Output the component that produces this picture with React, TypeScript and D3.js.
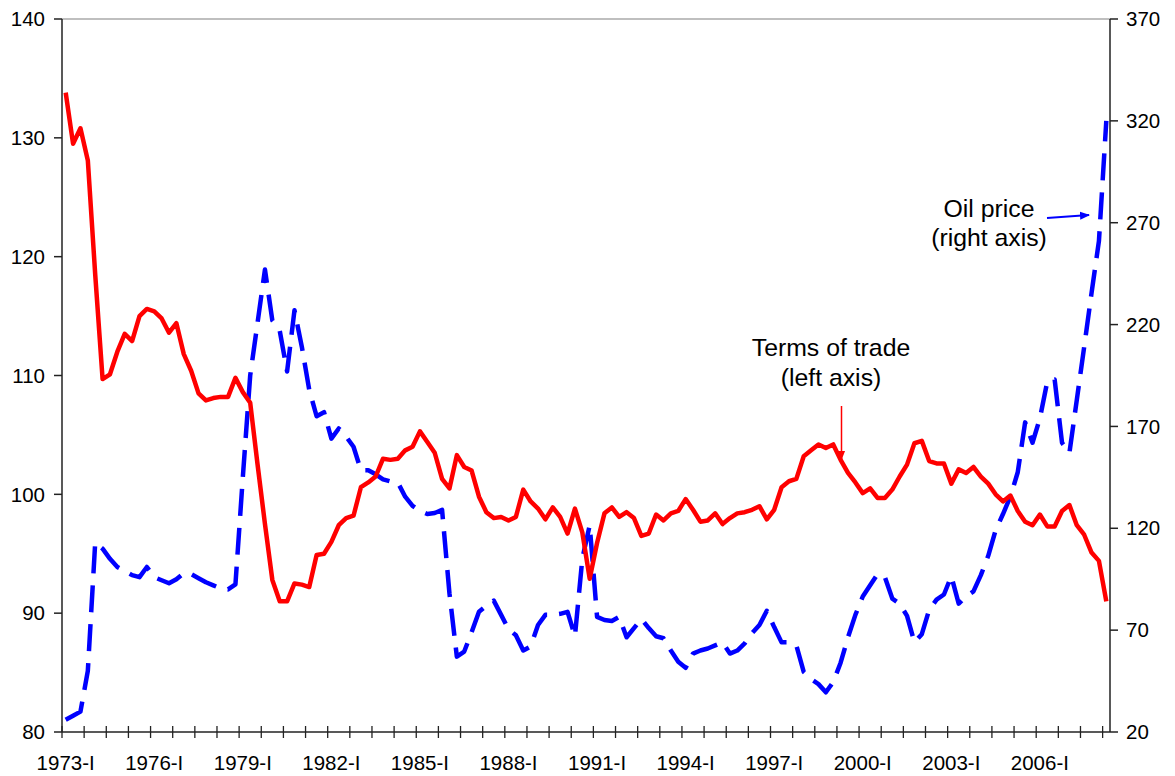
import React from 'react';
import * as d3 from 'd3';

// quarterly, 1973-I .. 2008-II
const startYear = 1973;
const romans = ['I', 'II', 'III', 'IV'];

const termsOfTrade = [
  133.8, 129.5, 130.8, 128.1, 118.5, 109.7, 110.1, 112.0, 113.5, 112.9,
  115.0, 115.6, 115.4, 114.8, 113.6, 114.4, 111.8, 110.4, 108.5, 107.9,
  108.1, 108.2, 108.2, 109.8, 108.6, 107.7, 102.5, 97.5, 92.8, 91.0,
  91.0, 92.5, 92.4, 92.2, 94.9, 95.0, 96.0, 97.4, 98.0, 98.2,
  100.6, 101.0, 101.5, 103.0, 102.9, 103.0, 103.7, 104.0, 105.3, 104.4,
  103.5, 101.3, 100.5, 103.3, 102.3, 102.0, 99.8, 98.5, 98.0, 98.1,
  97.8, 98.1, 100.4, 99.4, 98.8, 97.9, 98.9, 98.1, 96.7, 98.8,
  96.8, 92.9, 95.9, 98.4, 98.9, 98.1, 98.5, 98.0, 96.5, 96.7,
  98.3, 97.8, 98.4, 98.6, 99.6, 98.7, 97.7, 97.8, 98.4, 97.5,
  98.0, 98.4, 98.5, 98.7, 99.0, 97.9, 98.7, 100.6, 101.1, 101.3,
  103.2, 103.7, 104.2, 103.9, 104.2, 102.9, 101.8, 101.0, 100.1, 100.5,
  99.7, 99.7, 100.4, 101.5, 102.5, 104.3, 104.5, 102.8, 102.6, 102.6,
  100.9, 102.1, 101.8, 102.3, 101.5, 100.9, 100.0, 99.4, 99.9, 98.6,
  97.7, 97.4, 98.3, 97.3, 97.3, 98.6, 99.1, 97.4, 96.6, 95.1,
  94.4, 91.0,
];

const oilPrice = [
  26, 28, 30, 50, 113, 110, 105, 101, 99, 97,
  96, 101, 96, 94.5, 93, 95, 98, 97.5, 95.5, 93.5,
  92, 90.5, 90, 92.5, 145, 195, 221, 247, 222, 217,
  197, 227, 209, 188, 175, 177, 164, 169, 165, 160,
  148.5, 148.5, 146.5, 144, 143, 142.5, 135.5, 131, 128.5, 127,
  127.5, 129, 88, 57, 59.5, 69, 79, 82, 84.5, 77.5,
  70.5, 67.5, 60, 62, 72.5, 77.5, 77.5, 78, 79, 67,
  105, 121.5, 76.5, 75, 74.5, 76.5, 66.5, 71, 75.5, 71,
  67, 66, 60, 54.5, 51.5, 58.5, 60, 61, 62.5, 64,
  58.5, 60, 63.5, 68.5, 72.5, 79.5, 71.5, 64, 64, 62.5,
  49.5, 46, 43.5, 39.5, 44.5, 54, 66.5, 77.5, 86.5, 92,
  97.5, 96, 85.5, 83, 77, 64, 68, 80, 85, 87.5,
  96.5, 83, 86.5, 89, 97, 106.5, 119, 127, 135.5, 147.5,
  172, 162, 174, 192, 193, 162, 157, 183, 209, 235.5,
  261, 320,
];

const quarters = termsOfTrade.map(
  (_, i) => `${startYear + Math.floor(i / 4)}-${romans[i % 4]}`
);
const leftTicks = [80, 90, 100, 110, 120, 130, 140];
const rightTicks = [20, 70, 120, 170, 220, 270, 320, 370];

const W = 1175;
const H = 776;
const plot = { left: 62, right: 1110, top: 19, bottom: 732 };
const font = '"Liberation Sans", Arial, Helvetica, sans-serif';

export default function App() {
  const n = quarters.length;
  const x = d3.scaleLinear().domain([0, n]).range([plot.left, plot.right]);
  const yL = d3.scaleLinear().domain([80, 140]).range([plot.bottom, plot.top]);
  const yR = d3.scaleLinear().domain([20, 370]).range([plot.bottom, plot.top]);

  const totLine = d3.line<number>()
    .x((_, i) => x(i + 0.5))
    .y(d => yL(d));
  const oilLine = d3.line<number>()
    .x((_, i) => x(i + 0.5))
    .y(d => yR(d));

  // tick marks every 3 quarters, labels every 12
  const xTicks = d3.range(0, n, 3);
  const xLabels = d3.range(0, n, 12);

  return (
    <svg
      width={W}
      height={H}
      style={{ position: 'absolute', left: 0, top: 0, background: '#fff' }}
      fontFamily={font}
    >
      <defs>
        <marker id="arrRed" viewBox="0 0 10 10" refX="9" refY="5"
          markerWidth="9" markerHeight="9" orient="auto" markerUnits="userSpaceOnUse">
          <path d="M0,1 L10,5 L0,9 z" fill="#ff0000" />
        </marker>
        <marker id="arrBlue" viewBox="0 0 10 10" refX="9" refY="5"
          markerWidth="10" markerHeight="10" orient="auto" markerUnits="userSpaceOnUse">
          <path d="M0,1 L10,5 L0,9 z" fill="#0000ff" />
        </marker>
      </defs>

      {/* plot frame */}
      <line x1={plot.left} x2={plot.right} y1={plot.top} y2={plot.top} stroke="#808080" strokeWidth={1.2} />
      <line x1={plot.left} x2={plot.left} y1={plot.top} y2={plot.bottom} stroke="#222" strokeWidth={1.5} />
      <line x1={plot.right} x2={plot.right} y1={plot.top} y2={plot.bottom} stroke="#222" strokeWidth={1.5} />
      <line x1={plot.left} x2={plot.right} y1={plot.bottom} y2={plot.bottom} stroke="#222" strokeWidth={1.5} />

      {/* left axis */}
      {leftTicks.map(t => (
        <g key={'l' + t}>
          <line x1={plot.left - 8} x2={plot.left} y1={yL(t)} y2={yL(t)} stroke="#222" strokeWidth={1.5} />
          <text x={45} y={yL(t)} dy="0.35em" textAnchor="end" fontSize={20.5} fill="#000">{t}</text>
        </g>
      ))}

      {/* right axis */}
      {rightTicks.map(t => (
        <g key={'r' + t}>
          <line x1={plot.right} x2={plot.right + 8} y1={yR(t)} y2={yR(t)} stroke="#222" strokeWidth={1.5} />
          <text x={1126} y={yR(t)} dy="0.35em" textAnchor="start" fontSize={20.5} fill="#000">{t}</text>
        </g>
      ))}

      {/* x axis */}
      {xTicks.map(i => (
        <line key={'x' + i} x1={x(i)} x2={x(i)} y1={plot.bottom - 6} y2={plot.bottom + 6} stroke="#222" strokeWidth={1.3} />
      ))}
      {xLabels.map(i => (
        <text key={'xl' + i} x={x(i + 0.5)} y={770} textAnchor="middle" fontSize={20.5} fill="#000">
          {quarters[i]}
        </text>
      ))}

      {/* series */}
      <path d={oilLine(oilPrice) || ''} fill="none" stroke="#0000ff" strokeWidth={4.5}
        strokeDasharray="27 12" strokeLinejoin="round" />
      <path d={totLine(termsOfTrade) || ''} fill="none" stroke="#ff0000" strokeWidth={4.5}
        strokeLinejoin="round" />

      {/* annotations */}
      <text x={831} y={356} textAnchor="middle" fontSize={24.8} fill="#000">Terms of trade</text>
      <text x={831} y={386} textAnchor="middle" fontSize={24.8} fill="#000">(left axis)</text>
      <line x1={841.5} x2={841.5} y1={406} y2={459} stroke="#ff0000" strokeWidth={1.5} markerEnd="url(#arrRed)" />

      <text x={989} y={217} textAnchor="middle" fontSize={24.8} fill="#000">Oil price</text>
      <text x={989} y={246} textAnchor="middle" fontSize={24.8} fill="#000">(right axis)</text>
      <line x1={1047} x2={1089} y1={218} y2={215} stroke="#0000ff" strokeWidth={1.8} markerEnd="url(#arrBlue)" />
    </svg>
  );
}
